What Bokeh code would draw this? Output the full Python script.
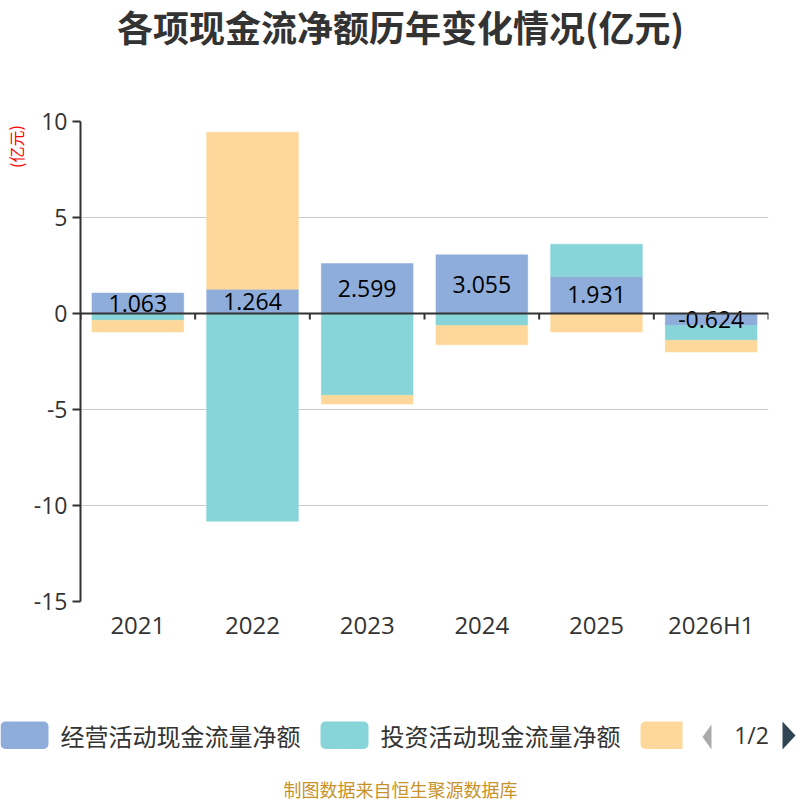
from bokeh.plotting import figure
from bokeh.layouts import column, row
from bokeh.models import (ColumnDataSource, Range1d, FixedTicker, LabelSet, Span)
from bokeh.core.properties import value
from bokeh.embed import file_html
from bokeh.resources import INLINE

categories = ["2021", "2022", "2023", "2024", "2025", "2026H1"]
operating = [1.063, 1.264, 2.599, 3.055, 1.931, -0.624]
investing = [-0.35, -10.82, -4.26, -0.62, 1.68, -0.77]
financing = [-0.61, 8.18, -0.46, -1.01, -0.97, -0.61]
series_names = ["经营活动现金流量净额", "投资活动现金流量净额", "筹资活动现金流量净额"]
colors = ["#8eadda", "#87d5d8", "#fdd89a"]
y_ticks = [-15, -10, -5, 0, 5, 10]
title_text = "各项现金流净额历年变化情况(亿元)"
unit_text = "(亿元)"
source_note = "制图数据来自恒生聚源数据库"
page_text = "1/2"

CJK = "Noto Sans CJK SC"
NUM = "Open Sans"

W = 796
STRIP = 30
H_TOP, H_MAIN, H_BOT = 100, 600, 100
n = len(categories)


def no_align(f):
    if "frame_align" in f.properties():
        f.frame_align = False
    return f


def blank(width, height, x0, y0):
    f = figure(width=width, height=height, output_backend="svg", toolbar_location=None,
               x_range=Range1d(x0, x0 + width), y_range=Range1d(y0 + height, y0),
               x_axis_location=None, y_axis_location=None,
               min_border=0, min_border_left=0, min_border_right=0,
               min_border_top=0, min_border_bottom=0)
    f.outline_line_color = None
    f.xgrid.grid_line_color = None
    f.ygrid.grid_line_color = None
    return no_align(f)


# ---------- header ----------
head = blank(W, H_TOP, 0, 0)
head.text(x=[400], y=[25], text=[title_text], text_align="center", text_baseline="middle",
          text_font=value(CJK), text_font_size="36px", text_font_style="bold",
          text_color="#333333")

# ---------- unit strip ----------
strip = blank(STRIP, H_MAIN, 0, H_TOP)
strip.text(x=[15], y=[146], text=[unit_text], angle=1.5708, text_align="center",
           text_baseline="middle", text_font=value(CJK), text_font_size="16px",
           text_color="red")

# ---------- main chart ----------
p = figure(width=W - STRIP, height=H_MAIN, output_backend="svg", toolbar_location=None,
           x_range=Range1d(-0.5, n - 0.5), y_range=Range1d(y_ticks[0], y_ticks[-1]),
           min_border_left=80 - STRIP, min_border_right=W - 768,
           min_border_top=121 - H_TOP, min_border_bottom=H_TOP + H_MAIN - 601)
p.outline_line_color = None
no_align(p)

xs = list(range(n))
pos = [0.0] * n
neg = [0.0] * n
for vals, color in zip([operating, investing, financing], colors):
    bottoms, tops = [], []
    for i, v in enumerate(vals):
        if v >= 0:
            b = pos[i]; t = b + v; pos[i] = t
        else:
            b = neg[i]; t = b + v; neg[i] = t
        bottoms.append(b); tops.append(t)
    src = ColumnDataSource(dict(x=xs, bottom=bottoms, top=tops))
    p.vbar(x="x", bottom="bottom", top="top", width=0.8, source=src,
           fill_color=color, line_color=color, line_width=0.5)

lab_src = ColumnDataSource(dict(x=xs, y=[v / 2 for v in operating],
                                t=["%.3f" % v for v in operating]))
p.add_layout(LabelSet(x="x", y="y", text="t", source=lab_src, text_align="center",
                      text_baseline="middle", text_font_size="23px", text_color="black",
                      text_font=value(NUM)))

p.xgrid.grid_line_color = None
p.ygrid.ticker = FixedTicker(ticks=y_ticks)
p.ygrid.grid_line_color = "#cccccc"
p.ygrid.grid_line_width = 1

px_per_unit = (601 - 121) / (y_ticks[-1] - y_ticks[0])
p.add_layout(Span(location=0, dimension="width", line_color="#333333", line_width=2))
bounds = [i - 0.5 for i in range(n + 1)]
p.segment(x0=bounds, y0=[0] * len(bounds), x1=bounds,
          y1=[-6 / px_per_unit] * len(bounds), line_color="#333333", line_width=2)

ya = p.yaxis[0]
ya.ticker = FixedTicker(ticks=y_ticks)
ya.major_label_overrides = {t: str(t) for t in y_ticks}
ya.axis_line_color = "#333333"
ya.axis_line_width = 2
ya.major_tick_line_color = "#333333"
ya.major_tick_line_width = 2
ya.major_tick_out = 8
ya.major_tick_in = 0
ya.minor_tick_line_color = None
ya.major_label_text_font_size = "23px"
ya.major_label_text_color = "#333333"
ya.major_label_text_font = NUM
ya.major_label_standoff = 5

xa = p.xaxis[0]
xa.ticker = FixedTicker(ticks=xs)
xa.major_label_overrides = {i: c for i, c in enumerate(categories)}
xa.axis_line_color = None
xa.major_tick_line_color = None
xa.minor_tick_line_color = None
xa.major_label_text_font_size = "24px"
xa.major_label_text_color = "#333333"
xa.major_label_text_font = NUM
xa.major_label_standoff = 0

# ---------- legend + source ----------
y0 = H_TOP + H_MAIN
bot = blank(W, H_BOT, 0, y0)
sw = [(0, 48), (320, 368), (640, 682)]
txt_x = [60, 380]
for k, ((l, r), color) in enumerate(zip(sw, colors)):
    radius = 5 if k < 2 else (5, 0, 0, 5)
    bot.quad(left=[l], right=[r], top=[721], bottom=[748.5], fill_color=color,
             line_color=None, border_radius=radius)
bot.text(x=txt_x, y=[735, 735], text=series_names[:2], text_align="left",
         text_baseline="middle", text_font=value(CJK), text_font_size="24px",
         text_color="#333333")
bot.patch(x=[711, 711, 702], y=[724, 749, 736.5], fill_color="#aaaaaa", line_color=None)
bot.patch(x=[782, 782, 795], y=[721, 749, 735], fill_color="#2f4554", line_color=None)
bot.text(x=[751], y=[734], text=[page_text], text_align="center", text_baseline="middle",
         text_font=value(NUM), text_font_size="23px", text_color="#333333")
bot.text(x=[400], y=[788], text=[source_note], text_align="center", text_baseline="middle",
         text_font=value(CJK), text_font_size="18px", text_color="#c8922a")

layout = column(head, row(strip, p, spacing=0), bot, spacing=0)
open("out.html", "w").write(file_html(layout, INLINE))
